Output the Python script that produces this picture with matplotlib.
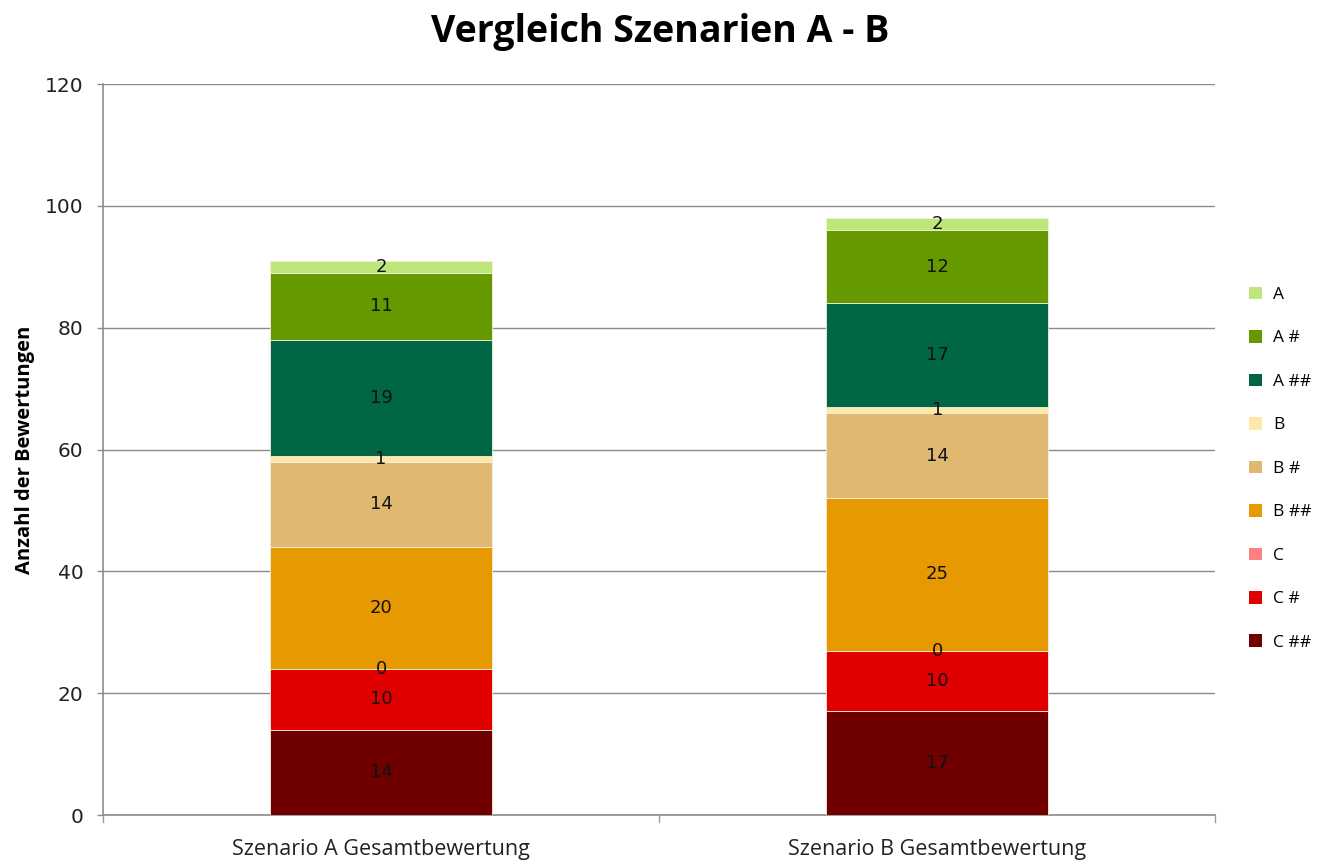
import numpy as np
import matplotlib
matplotlib.use('Agg')
import matplotlib.pyplot as plt
from matplotlib.patches import Patch

# data (stack order, bottom -> top)
categories = ['Szenario A Gesamtbewertung', 'Szenario B Gesamtbewertung']
series = ['C ##', 'C #', 'C', 'B ##', 'B #', 'B', 'A ##', 'A #', 'A']
c_2 = [14, 17]
c_1 = [10, 10]
c_0 = [0, 0]
b_2 = [20, 25]
b_1 = [14, 14]
b_0 = [1, 1]
a_2 = [19, 17]
a_1 = [11, 12]
a_0 = [2, 2]
values = [c_2, c_1, c_0, b_2, b_1, b_0, a_2, a_1, a_0]
colors = ['#700000', '#e10000', '#ff8080', '#e69900', '#e0b872',
          '#fde8a8', '#006644', '#669900', '#bfe67a']

fig = plt.figure(figsize=(13.21, 8.6), dpi=100)
ax = fig.add_axes([0.078, 0.0523, 0.842, 0.85])

x = np.arange(len(categories))
bottom = np.zeros(len(categories))
for name, vals, col in zip(series, values, colors):
    vals = np.array(vals, dtype=float)
    ax.bar(x, vals, 0.4, bottom=bottom, color=col, edgecolor='#f4f0dc',
           linewidth=0.6, label=name, zorder=3)
    for xi, b, v in zip(x, bottom, vals):
        ax.text(xi, b + v / 2, f'{int(v)}', ha='center', va='center',
                fontsize=13, color='#111111', family='DejaVu Sans', zorder=4)
    bottom += vals

ax.set_xlim(-0.5, 1.5)
ax.set_ylim(0, 120)
ax.set_yticks(range(0, 121, 20))
ax.tick_params(axis='y', labelsize=14.5, colors='#8c8c8c', length=4, width=1,
               labelcolor='#222222', pad=10)
for lbl in ax.get_yticklabels():
    lbl.set_family('DejaVu Sans')

ax.set_xticks(x)
ax.set_xticklabels(categories, fontsize=15.5, family='Open Sans', color='#222222')
ax.tick_params(axis='x', length=0, pad=17)
# category separator ticks
for xs in [-0.5, 0.5, 1.5]:
    ax.plot([xs, xs], [0, -1.2], color='#999999', lw=1, clip_on=False)

ax.grid(axis='y', color='#8c8c8c', lw=1, zorder=0)
for s in ['top', 'right']:
    ax.spines[s].set_visible(False)
for s in ['left', 'bottom']:
    ax.spines[s].set_color('#8c8c8c')
    ax.spines[s].set_linewidth(1.2)

ax.set_ylabel('Anzahl der Bewertungen', fontsize=14.5, fontweight='bold',
              family='Open Sans', labelpad=7)

fig.suptitle('Vergleich Szenarien A - B', fontsize=27, fontweight='bold',
             family='Open Sans', x=0.5, y=0.985)

handles = [Patch(facecolor=c, label=n) for n, c in zip(series[::-1], colors[::-1])]
fig.legend(handles=handles, loc='upper left', bbox_to_anchor=(0.934, 0.685),
           frameon=False, handlelength=0.75, handleheight=0.75,
           handletextpad=0.6, labelspacing=1.56,
           prop={'family': 'Open Sans', 'size': 12.5})

fig.savefig('out.png', dpi=100)
